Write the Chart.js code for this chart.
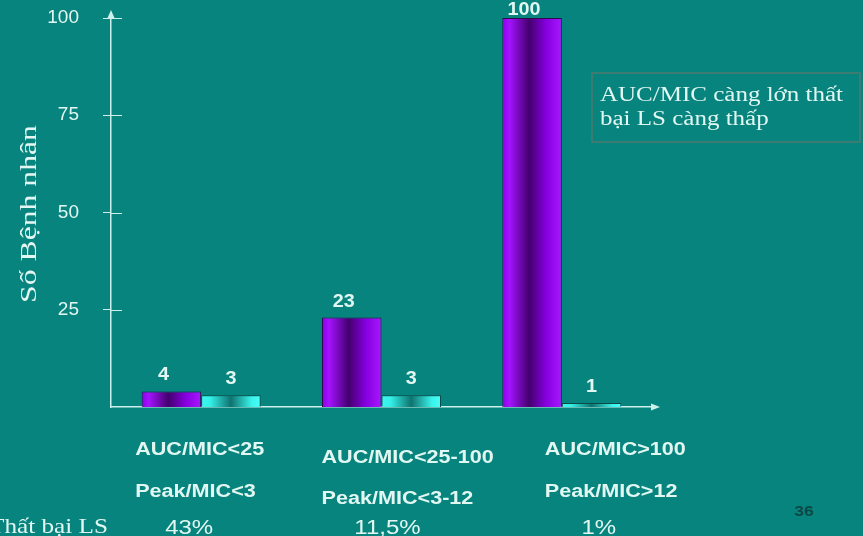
<!DOCTYPE html>
<html>
<head>
<meta charset="utf-8">
<script src="https://cdn.jsdelivr.net/npm/chart.js@4/dist/chart.umd.min.js"></script>
<style>
  html, body { margin: 0; padding: 0; background: #08847f; overflow: hidden; }
  #wrap { width: 863px; height: 536px; }
</style>
</head>
<body>
<div id="wrap"><canvas id="c" width="863" height="536"></canvas></div>
<script>
// Groups on the category axis
const aucLabels = ['AUC/MIC<25', 'AUC/MIC<25-100', 'AUC/MIC>100'];
const peakLabels = ['Peak/MIC<3', 'Peak/MIC<3-12', 'Peak/MIC>12'];
const failureRates = ['43%', '11,5%', '1%'];

// Number of patients per group (two series)
const seriesA = [4, 23, 100];
const seriesB = [3, 3, 1];

// Value-axis tick labels
const yTicks = [25, 50, 75, 100];

const TEXT = '#e2f7f2';
const AXIS = '#cdf0ea';
const SX = 1.2; // slide text runs slightly wide
const CAT_PCT = 0.66;

// Label anchors relative to each category centre
const aucShift = [-66, -60, -17];
const aucBase = [455, 463, 455];
const peakBase = [497, 504, 497];
const rateShift = [-12, 6, 37];

function wideText(ctx, str, x, y, sx, align) {
  ctx.save();
  ctx.translate(x, y);
  ctx.scale(sx, 1);
  ctx.textAlign = align;
  ctx.fillText(str, 0, 0);
  ctx.restore();
}

const PURPLE = [[0, '#8c00e4'], [0.12, '#a412ff'], [0.45, '#44006e'], [0.74, '#8600e0'], [1, '#a818ff']];
const CYAN = [[0, '#3ef6ee'], [0.15, '#34f0e8'], [0.5, '#10726e'], [0.85, '#3af4ec'], [1, '#48fdf8']];

function barFill(stops, dsIndex) {
  return (c) => {
    const chart = c.chart;
    const xs = chart.scales.x;
    if (c.dataIndex === undefined || !xs || !chart.chartArea) return stops[1][1];
    const centre = xs.getPixelForValue(c.dataIndex);
    const w = (xs.width / aucLabels.length) * CAT_PCT / 2;
    const left = centre - w + dsIndex * w;
    const g = chart.ctx.createLinearGradient(left, 0, left + w, 0);
    stops.forEach(s => g.addColorStop(s[0], s[1]));
    return g;
  };
}

const decor = {
  id: 'decor',
  beforeDraw(chart) {
    const ctx = chart.ctx;
    ctx.save();
    ctx.fillStyle = '#08847f';
    ctx.fillRect(0, 0, chart.width, chart.height);
    ctx.restore();
  },
  afterDraw(chart) {
    const ctx = chart.ctx;
    const a = chart.chartArea;
    const xs = chart.scales.x;
    const ys = chart.scales.y;
    ctx.save();

    // axis arrows
    ctx.fillStyle = AXIS;
    ctx.beginPath();
    ctx.moveTo(a.left, a.top - 8);
    ctx.lineTo(a.left - 3.5, a.top);
    ctx.lineTo(a.left + 3.5, a.top);
    ctx.closePath();
    ctx.fill();
    ctx.beginPath();
    ctx.moveTo(a.right + 8, a.bottom);
    ctx.lineTo(a.right - 1, a.bottom - 3.5);
    ctx.lineTo(a.right - 1, a.bottom + 3.5);
    ctx.closePath();
    ctx.fill();

    // tick marks crossing the value axis
    ctx.strokeStyle = AXIS;
    ctx.lineWidth = 1;
    yTicks.forEach(v => {
      const y = Math.round(ys.getPixelForValue(v)) + 0.5;
      ctx.beginPath();
      ctx.moveTo(a.left, y);
      ctx.lineTo(a.left + 11, y);
      ctx.stroke();
    });

    // value-axis title
    ctx.fillStyle = TEXT;
    ctx.font = '24px "Liberation Serif", "Times New Roman", serif';
    ctx.textBaseline = 'alphabetic';
    ctx.save();
    ctx.translate(36, 214);
    ctx.rotate(-Math.PI / 2);
    ctx.scale(1.32, 1);
    ctx.textAlign = 'center';
    ctx.fillText('Số Bệnh nhân', 0, 0);
    ctx.restore();

    // value labels above bars
    ctx.font = 'bold 18px "Liberation Sans", Arial, sans-serif';
    chart.data.datasets.forEach((ds, di) => {
      chart.getDatasetMeta(di).data.forEach((el, i) => {
        const y = Math.max(el.y - 11, 15);
        wideText(ctx, String(ds.data[i]), el.x + (di === 0 ? -8 : 0), y, 1.1, 'center');
      });
    });

    // group captions
    ctx.font = 'bold 18px "Liberation Sans", Arial, sans-serif';
    aucLabels.forEach((t, i) => {
      const cx = xs.getPixelForValue(i);
      wideText(ctx, t, cx + aucShift[i], aucBase[i], SX, 'left');
      wideText(ctx, peakLabels[i], cx + aucShift[i], peakBase[i], SX, 'left');
    });
    ctx.font = '20px "Liberation Sans", Arial, sans-serif';
    failureRates.forEach((t, i) => {
      const cx = xs.getPixelForValue(i);
      wideText(ctx, t, cx + rateShift[i], 534, SX, 'center');
    });
    ctx.font = '21px "Liberation Serif", "Times New Roman", serif';
    wideText(ctx, 'Thất bại LS', 108, 533, SX, 'right');

    // note box
    ctx.strokeStyle = '#4f7a70';
    ctx.lineWidth = 1.5;
    ctx.strokeRect(592, 73, 268, 69);
    ctx.font = '20px "Liberation Serif", "Times New Roman", serif';
    ctx.fillStyle = TEXT;
    wideText(ctx, 'AUC/MIC càng lớn thất', 600, 101, 1.25, 'left');
    wideText(ctx, 'bại LS càng thấp', 600, 125, 1.25, 'left');

    // slide number
    ctx.font = 'bold 14px "Liberation Sans", Arial, sans-serif';
    ctx.fillStyle = '#0a4845';
    wideText(ctx, '36', 804, 516, 1.25, 'center');

    ctx.restore();
  }
};

new Chart(document.getElementById('c'), {
  type: 'bar',
  data: {
    labels: aucLabels,
    datasets: [
      { data: seriesA, backgroundColor: barFill(PURPLE, 0), borderColor: '#2c0a4c', borderWidth: 1 },
      { data: seriesB, backgroundColor: barFill(CYAN, 1), borderColor: '#0a4a48', borderWidth: 1 }
    ]
  },
  options: {
    responsive: false,
    devicePixelRatio: 1,
    animation: false,
    layout: { padding: { left: 11, top: 18, right: 211, bottom: 129 } },
    plugins: { legend: { display: false }, tooltip: { enabled: false } },
    datasets: { bar: { categoryPercentage: CAT_PCT, barPercentage: 1 } },
    scales: {
      x: {
        grid: { display: false },
        ticks: { display: false },
        border: { color: AXIS, width: 1.5 },
        afterFit(s) { s.height = 0; s.paddingLeft = 0; s.paddingRight = 0; }
      },
      y: {
        min: 0,
        max: 100,
        afterBuildTicks(s) { s.ticks = yTicks.map(v => ({ value: v })); },
        afterFit(s) { s.width = 100; s.paddingTop = 0; s.paddingBottom = 0; },
        grid: { drawOnChartArea: false, drawTicks: true, tickLength: 8, color: AXIS },
        border: { color: AXIS, width: 1.5 },
        ticks: {
          color: TEXT,
          padding: 24,
          font: { family: '"Liberation Sans", Arial, sans-serif', size: 19 }
        }
      }
    }
  },
  plugins: [decor]
});
</script>
</body>
</html>
